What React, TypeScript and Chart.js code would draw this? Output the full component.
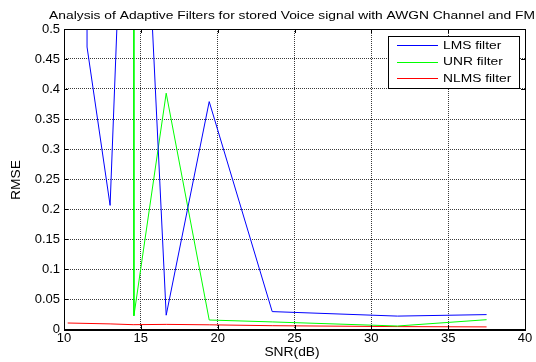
import React, { useEffect, useRef } from "react";
import { Chart, registerables } from "chart.js";

Chart.register(...registerables);

const chartTitle = "Analysis of Adaptive Filters for stored Voice signal with AWGN Channel and FM";
const xAxisTitle = "SNR(dB)";
const yAxisTitle = "RMSE";

const seriesNames = ["LMS filter", "UNR filter", "NLMS filter"];
const seriesColors = ["#0000ff", "#00ff00", "#ff0000"];

const snrLMS = [11.45, 11.5, 13.0, 14.47, 16.65, 19.45, 23.55, 31.7, 37.5];
const rmseLMS = [3.0, 0.47, 0.206, 1.19, 0.023, 0.379, 0.029, 0.0215, 0.024];

const snrUNR = [14.5, 14.55, 16.65, 19.45, 23.55, 31.7, 37.5];
const rmseUNR = [3.0, 0.022, 0.393, 0.015, 0.0118, 0.005, 0.0155];

const snrNLMS = [10.24, 13.0, 14.5, 16.65, 19.45, 23.55, 31.7, 37.5];
const rmseNLMS = [0.0100, 0.0085, 0.0072, 0.0077, 0.0070, 0.0055, 0.0040, 0.0035];

const xTickValues = [10, 15, 20, 25, 30, 35, 40];
const xTickLabels = ["10", "15", "20", "25", "30", "35", "40"];
const yTickValues = [0, 0.05, 0.1, 0.15, 0.2, 0.25, 0.3, 0.35, 0.4, 0.45, 0.5];
const yTickLabels = ["0", "0.05", "0.1", "0.15", "0.2", "0.25", "0.3", "0.35", "0.4", "0.45", "0.5"];

const FONT = "'Liberation Sans', Arial, sans-serif";

function toPoints(xs: number[], ys: number[]) {
  return xs.map((x, i) => ({ x, y: ys[i] }));
}

function stretchedText(ctx: CanvasRenderingContext2D, text: string, x: number, y: number, sx: number, align: CanvasTextAlign) {
  ctx.save();
  ctx.translate(x, y);
  ctx.scale(sx, 1);
  ctx.textAlign = align;
  ctx.fillText(text, 0, 0);
  ctx.restore();
}

const framePlugin = {
  id: "matlabFrame",
  afterDatasetsDraw(chart: any) {
    const { ctx, chartArea } = chart;
    const { left, right, top, bottom } = chartArea;
    const xs = chart.scales.x;
    const ys = chart.scales.y;
    ctx.save();
    ctx.setLineDash([]);
    // frame
    ctx.strokeStyle = "#000";
    ctx.lineWidth = 1;
    ctx.strokeRect(Math.round(left) + 0.5, Math.round(top) + 0.5, Math.round(right - left), Math.round(bottom - top));
    ctx.lineWidth = 2;
    ctx.beginPath();
    ctx.moveTo(left, Math.round(bottom) + 1);
    ctx.lineTo(right + 1, Math.round(bottom) + 1);
    ctx.stroke();
    ctx.lineWidth = 1;
    // inward ticks
    ctx.beginPath();
    xTickValues.forEach((v) => {
      const px = Math.round(xs.getPixelForValue(v)) + 0.5;
      ctx.moveTo(px, bottom);
      ctx.lineTo(px, bottom - 4);
      ctx.moveTo(px, top);
      ctx.lineTo(px, top + 4);
    });
    yTickValues.forEach((v) => {
      const py = Math.round(ys.getPixelForValue(v)) + 0.5;
      ctx.moveTo(left, py);
      ctx.lineTo(left + 4, py);
      ctx.moveTo(right, py);
      ctx.lineTo(right - 4, py);
    });
    ctx.stroke();

    // legend
    const lx = 388, ly = 36, lw = 131, lh = 52;
    ctx.fillStyle = "#fff";
    ctx.fillRect(lx, ly, lw, lh);
    ctx.strokeStyle = "#000";
    ctx.lineWidth = 1;
    ctx.strokeRect(lx + 0.5, ly + 0.5, lw, lh);
    ctx.font = `11.5px ${FONT}`;
    ctx.textBaseline = "middle";
    const rows = [45, 61.5, 78];
    seriesNames.forEach((name, i) => {
      ctx.strokeStyle = seriesColors[i];
      ctx.lineWidth = 1;
      ctx.beginPath();
      ctx.moveTo(397, Math.round(rows[i]) + 0.5);
      ctx.lineTo(438, Math.round(rows[i]) + 0.5);
      ctx.stroke();
      ctx.fillStyle = "#000";
      stretchedText(ctx, name, 443, rows[i] + 0.5, 1.2, "left");
    });

    // titles
    ctx.fillStyle = "#000";
    ctx.font = `11.5px ${FONT}`;
    ctx.textBaseline = "middle";
    stretchedText(ctx, chartTitle, 292, 16, 1.2, "center");
    ctx.font = `12px ${FONT}`;
    stretchedText(ctx, xAxisTitle, 292, 353, 1.15, "center");
    ctx.save();
    ctx.translate(17, 180);
    ctx.rotate(-Math.PI / 2);
    ctx.scale(1.15, 1);
    ctx.textAlign = "center";
    ctx.fillText(yAxisTitle, 0, 0);
    ctx.restore();
    ctx.restore();
  },
};

export default function App() {
  const canvasRef = useRef<HTMLCanvasElement | null>(null);

  useEffect(() => {
    document.body.style.margin = "0";
    const canvas = canvasRef.current;
    if (!canvas) return;
    const chart = new Chart(canvas, {
      type: "line",
      data: {
        datasets: [
          { label: seriesNames[0], data: toPoints(snrLMS, rmseLMS), borderColor: seriesColors[0] },
          { label: seriesNames[1], data: toPoints(snrUNR, rmseUNR), borderColor: seriesColors[1] },
          { label: seriesNames[2], data: toPoints(snrNLMS, rmseNLMS), borderColor: seriesColors[2] },
        ].map((d) => ({
          ...d,
          borderWidth: 1,
          pointRadius: 0,
          fill: false,
          tension: 0,
          backgroundColor: d.borderColor,
        })),
      },
      options: {
        animation: false,
        responsive: false,
        maintainAspectRatio: false,
        layout: { padding: { left: 0, right: 11, top: 29, bottom: 0 } },
        plugins: {
          legend: { display: false },
          title: { display: false },
          tooltip: { enabled: false },
        },
        scales: {
          x: {
            type: "linear",
            min: 10,
            max: 40,
            afterFit: (scale: any) => {
              scale.height = 33;
            },
            afterBuildTicks: (scale: any) => {
              scale.ticks = xTickValues.map((v) => ({ value: v }));
            },
            ticks: {
              callback: (v: any) => {
                const i = xTickValues.indexOf(Number(v));
                return i >= 0 ? xTickLabels[i] : "";
              },
              font: { family: FONT, size: 13 },
              color: "#000",
              padding: 2,
              maxRotation: 0,
            },
            grid: {
              color: "#3a3a3a",
              lineWidth: 1,
              drawTicks: false,
            },
            border: { display: false, dash: [1, 1] },
          },
          y: {
            type: "linear",
            min: 0,
            max: 0.5,
            afterFit: (scale: any) => {
              scale.width = 64;
            },
            afterBuildTicks: (scale: any) => {
              scale.ticks = yTickValues.map((v) => ({ value: v }));
            },
            ticks: {
              callback: (v: any) => {
                const i = yTickValues.findIndex((t) => Math.abs(t - Number(v)) < 1e-9);
                return i >= 0 ? yTickLabels[i] : "";
              },
              font: { family: FONT, size: 13 },
              color: "#000",
              padding: 4,
            },
            grid: {
              color: "#3a3a3a",
              lineWidth: 1,
              drawTicks: false,
            },
            border: { display: false, dash: [1, 1] },
          },
        },
      },
      plugins: [framePlugin],
    } as any);
    return () => chart.destroy();
  }, []);

  return (
    <div style={{ position: "relative", width: 536, height: 362, background: "#fff" }}>
      <canvas ref={canvasRef} width={536} height={362} style={{ display: "block" }} />
    </div>
  );
}
